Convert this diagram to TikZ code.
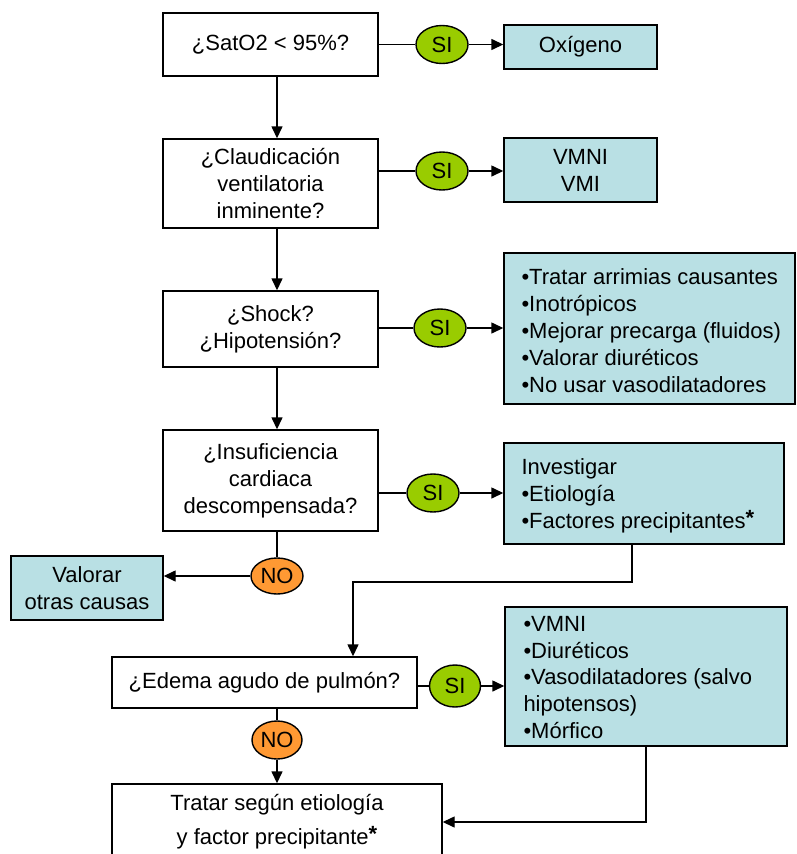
\documentclass[tikz,border=0pt]{standalone}
\usepackage{fontspec}
\setmainfont{Liberation Sans}
\usetikzlibrary{arrows.meta,shapes.geometric,shadows}
\definecolor{tealfill}{RGB}{185,224,228}
\definecolor{sigreen}{RGB}{153,204,0}
\definecolor{noorange}{RGB}{255,153,51}
\newcommand{\mystar}{\raisebox{3pt}{\bfseries *}}
\begin{document}
\begin{tikzpicture}[x=1pt,y=-1pt,
  every node/.style={font=\fontsize{22}{26.9}\selectfont},
  qbox/.style={draw, line width=1.4pt, fill=white, rectangle, inner sep=0pt, align=center},
  tbox/.style={draw, line width=1.4pt, fill=tealfill, rectangle, inner sep=0pt, align=center,
     general shadow={fill=black!80, shadow xshift=1.3pt, shadow yshift=-1.3pt}},
  listtxt/.style={inner sep=0pt, align=left, anchor=west},
  sinode/.style={draw, line width=1.4pt, fill=sigreen, ellipse, inner sep=0pt, minimum width=52pt, minimum height=38pt},
  nonode/.style={draw, line width=1.4pt, fill=noorange, ellipse, inner sep=0pt, minimum width=52pt, minimum height=36pt},
  conn/.style={line width=1.4pt},
  arr/.style={conn, -{Triangle[length=12pt,width=11pt]}}
]
\clip (0,0) rectangle (797,854);
\fill[white] (0,0) rectangle (797,854);

% row 1
\node[qbox, minimum width=215pt, minimum height=63pt] (q1) at (270.5,44.5) {¿SatO2 < 95\%?};
\node[sinode] (s1) at (442,44.5) {SI};
\node[tbox, minimum width=153pt, minimum height=44pt] (a1) at (580.5,47) {Oxígeno};

% row 2
\node[qbox, minimum width=215pt, minimum height=89pt] (q2) at (270.5,183.5) {¿Claudicación\\ventilatoria\\inminente?};
\node[sinode] (s2) at (442,171) {SI};
\node[tbox, minimum width=153pt, minimum height=64pt] (a2) at (580.5,170) {VMNI\\VMI};

% row 3
\node[qbox, minimum width=215pt, minimum height=76pt] (q3) at (270.5,329) {¿Shock?\\¿Hipotensión?};
\node[sinode] (s3) at (440,328) {SI};
\node[tbox, minimum width=291pt, minimum height=151pt] (r3) at (649.5,328.5) {};
\node[listtxt] (r3t) at ([xshift=18pt,yshift=-2pt]r3.west) {•Tratar arrimias causantes\\•Inotrópicos\\•Mejorar precarga (fluidos)\\•Valorar diuréticos\\•No usar vasodilatadores};

% row 4
\node[qbox, minimum width=215pt, minimum height=101pt] (q4) at (270.5,480.5) {¿Insuficiencia\\cardiaca\\descompensada?};
\node[sinode] (s4) at (433,493) {SI};
\node[tbox, minimum width=280pt, minimum height=101pt] (r4) at (644,493.5) {};
\node[listtxt] (r4t) at ([xshift=18pt,yshift=-2pt]r4.west) {Investigar\\•Etiología\\•Factores precipitantes\mystar};

\node[nonode] (n1) at (277,576) {NO};
\node[tbox, minimum width=152pt, minimum height=64pt] (v1) at (87,588) {Valorar\\otras causas};

% row 5
\node[qbox, minimum width=305pt, minimum height=51pt] (q5) at (264.5,682.5) {¿Edema agudo de pulmón?};
\node[sinode, minimum width=51pt, minimum height=42pt] (s5) at (455,686) {SI};
\node[tbox, minimum width=282pt, minimum height=139pt] (r5) at (646,676.5) {};
\node[listtxt] (r5t) at ([xshift=19pt,yshift=-1pt]r5.west) {•VMNI\\•Diuréticos\\•Vasodilatadores (salvo\\hipotensos)\\•Mórfico};

\node[nonode, minimum width=50pt, minimum height=38pt] (n2) at (277,740) {NO};
\node[qbox, minimum width=330pt, minimum height=100pt] (fin) at (277,834) {};
\node[inner sep=0pt, align=center] (fint) at (277,822) {Tratar según etiología\\[7pt]y factor precipitante\mystar};

% junction points
\coordinate (j1) at (632,582);
\coordinate (j2) at (353,582);
\coordinate (j3) at (646,822);

% connectors
\draw[conn] (q1.east) -- (s1.west);
\draw[arr] (s1.east) -- (a1.west |- s1.east);
\draw[conn] (s2.west -| q2.east) -- (s2.west);
\draw[arr] (s2.east) -- (a2.west |- s2.east);
\draw[conn] (s3.west -| q3.east) -- (s3.west);
\draw[arr] (s3.east) -- (r3.west |- s3.east);
\draw[conn] (s4.west -| q4.east) -- (s4.west);
\draw[arr] (s4.east) -- (r4.west |- s4.east);
\draw[conn] (s5.west -| q5.east) -- (s5.west);
\draw[arr] (s5.east) -- (r5.west |- s5.east);

\draw[arr] (q1.south -| n1) -- (q2.north -| n1);
\draw[arr] (q2.south -| n1) -- (q3.north -| n1);
\draw[arr] (q3.south -| n1) -- (q4.north -| n1);
\draw[conn] (q4.south -| n1) -- (n1.north);
\draw[arr] (n1.west) -- (v1.east |- n1.west);

\draw[arr] (j1 |- r4.south) -- (j1) -- (j2) -- (j2 |- q5.north);
\draw[conn] (q5.south -| n2) -- (n2.north);
\draw[arr] (n2.south) -- (fin.north -| n2);
\draw[arr] (j3 |- r5.south) -- (j3) -- (j3 -| fin.east);
\end{tikzpicture}
\end{document}
